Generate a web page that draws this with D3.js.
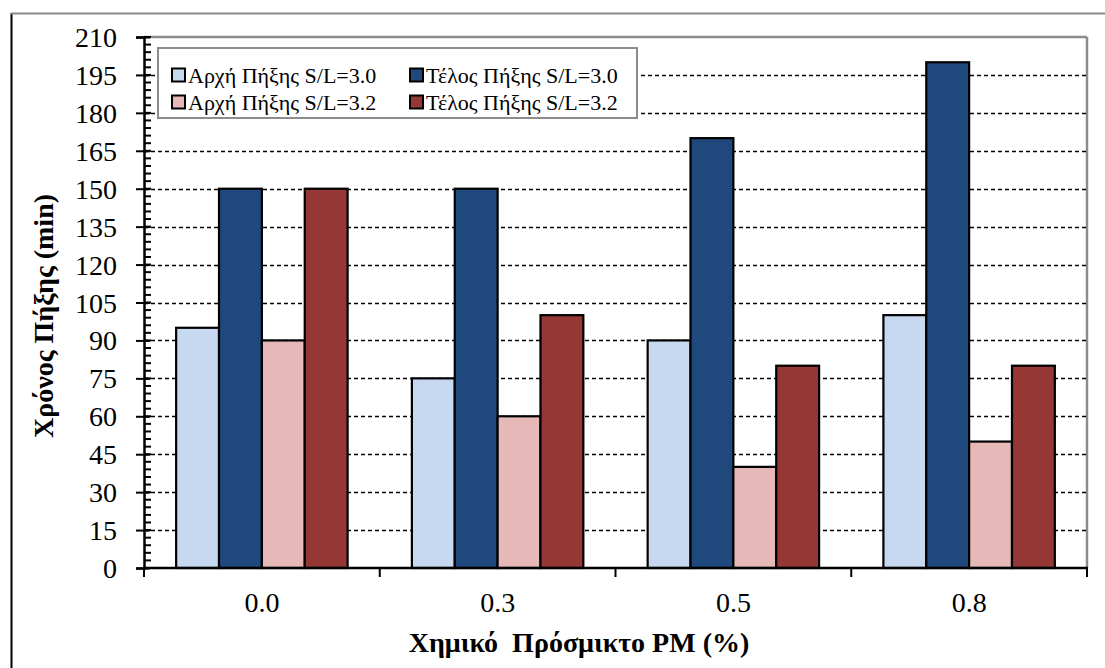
<!DOCTYPE html>
<html><head><meta charset="utf-8">
<script src="https://cdn.jsdelivr.net/npm/d3@7"></script>
<style>body{margin:0;background:#fff}svg{display:block}</style>
</head><body><svg id="c" width="1105" height="668" font-family="Liberation Serif"></svg>
<script>
const categories = ["0.0","0.3","0.5","0.8"];
const seriesNames = ["Αρχή Πήξης S/L=3.0","Τέλος Πήξης S/L=3.0","Αρχή Πήξης S/L=3.2","Τέλος Πήξης S/L=3.2"];
const startSL30 = [95,75,90,100];
const endSL30 = [150,150,170,200];
const startSL32 = [90,60,40,50];
const endSL32 = [150,100,80,80];
const yTicks = [0,15,30,45,60,75,90,105,120,135,150,165,180,195,210];
const colors = ["#c6d9f1","#1f497d","#e6b9b8","#953735"];
const seriesVals = [startSL30,endSL30,startSL32,endSL32];
const FONT = "Liberation Serif";

const svg = d3.select("#c");
const L=144, R=1087, T=37, B=568;
const x = d3.scaleBand().domain(categories).range([L,R]).paddingInner(0).paddingOuter(0);
const y = d3.scaleLinear().domain([0,210]).range([B,T]);
const gapRatio = 1.5;
const bw = x.bandwidth()/(4+gapRatio);

// outer frame
svg.append("line").attr("x1",11.5).attr("x2",11.5).attr("y1",13).attr("y2",668).attr("stroke","#000").attr("stroke-width",2);
svg.append("line").attr("x1",11).attr("x2",1105).attr("y1",13.5).attr("y2",13.5).attr("stroke","#888").attr("stroke-width",2);
// plot border
svg.append("line").attr("x1",L).attr("x2",R).attr("y1",T).attr("y2",T).attr("stroke","#8c8c8c").attr("stroke-width",2.5);
svg.append("line").attr("x1",R).attr("x2",R).attr("y1",T).attr("y2",B).attr("stroke","#8c8c8c").attr("stroke-width",2.5);

// gridlines
svg.append("g").selectAll("line").data(yTicks.filter(d=>d>0&&d<210)).join("line")
  .attr("x1",L).attr("x2",R).attr("y1",d=>Math.round(y(d))+0.5).attr("y2",d=>Math.round(y(d))+0.5)
  .attr("stroke","#000").attr("stroke-width",1.3).attr("stroke-dasharray","4,3");

// bars
seriesVals.forEach((vals,si)=>{
  svg.append("g").selectAll("rect").data(vals).join("rect")
    .attr("x",(d,i)=>x(categories[i])+bw*gapRatio/2+si*bw)
    .attr("y",d=>y(d)).attr("width",bw).attr("height",d=>B-y(d))
    .attr("fill",colors[si]).attr("stroke","#000").attr("stroke-width",2.2);
});

// y axis
const minor = d3.range(0,211,3);
svg.append("g").selectAll("line").data(minor).join("line")
  .attr("x1",L).attr("x2",L+7).attr("y1",d=>y(d)).attr("y2",d=>y(d)).attr("stroke","#000").attr("stroke-width",2);
const yAxis = d3.axisLeft(y).tickValues(yTicks).tickSize(8).tickPadding(19);
const gy = svg.append("g").attr("transform",`translate(${L},0)`).call(yAxis);
gy.attr("font-family",FONT).attr("font-size",28);
gy.select(".domain").attr("stroke-width",2.5);
gy.selectAll(".tick line").attr("x2",-8).attr("x1",6).attr("stroke-width",2);
gy.selectAll("text").attr("fill","#000").attr("dy","0.34em");

// x axis
const gx = svg.append("g").attr("transform",`translate(0,${B})`);
gx.append("line").attr("x1",L-1).attr("x2",R+1).attr("y1",0).attr("y2",0).attr("stroke","#000").attr("stroke-width",2.5);
const bounds = categories.map(c=>x(c)).concat([R]);
gx.selectAll("line.t").data(bounds).join("line").attr("class","t")
  .attr("x1",d=>d).attr("x2",d=>d).attr("y1",0).attr("y2",9).attr("stroke","#000").attr("stroke-width",2);
gx.selectAll("text").data(categories).join("text")
  .attr("x",d=>x(d)+x.bandwidth()/2).attr("y",44).attr("text-anchor","middle").attr("font-family",FONT)
  .attr("font-size",28).attr("fill","#000").text(d=>d);

// axis titles
svg.append("text").attr("x",579).attr("y",652).attr("text-anchor","middle").attr("font-size",28).attr("font-weight","bold").attr("font-family",FONT)
  .attr("xml:space","preserve").style("white-space","pre").text("Χημικό  Πρόσμικτο PM (%)");
svg.append("text").attr("transform","translate(43,316) rotate(-90)").attr("dy","0.35em").attr("text-anchor","middle").attr("font-size",28).attr("font-weight","bold").attr("font-family",FONT)
  .text("Χρόνος Πήξης (min)");

// legend
const lg = svg.append("g");
lg.append("rect").attr("x",158).attr("y",48).attr("width",479).attr("height",70).attr("fill","#fff").attr("stroke","#8c8c8c").attr("stroke-width",2);
const pos = [[172,75],[410,75],[172,102],[410,102]];
[0,1,2,3].forEach((si,k)=>{
  const [px,py]=pos[k];
  lg.append("rect").attr("x",px).attr("y",py-6.5).attr("width",13).attr("height",13).attr("fill",colors[si]).attr("stroke","#000").attr("stroke-width",2);
  lg.append("text").attr("x",px+16).attr("y",py).attr("dy","0.35em").attr("font-size",22).attr("font-family",FONT).text(seriesNames[si]);
});
</script></body></html>
